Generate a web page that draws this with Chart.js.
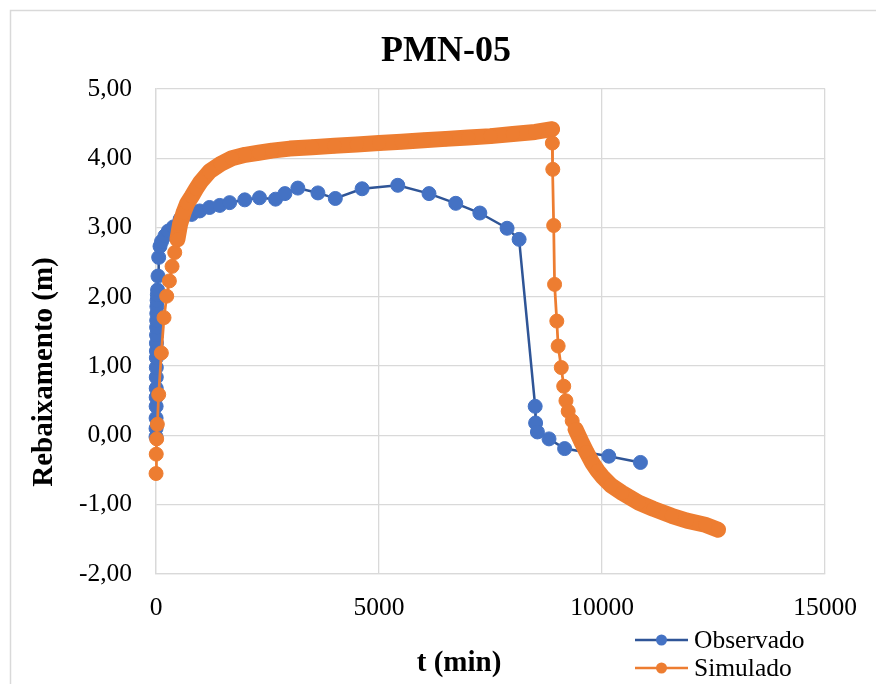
<!DOCTYPE html>
<html>
<head>
<meta charset="utf-8">
<title>PMN-05</title>
<style>
  html, body { margin: 0; padding: 0; background: #fff; }
</style>
</head>
<body>
<canvas id="grafico" width="876" height="684"></canvas>
<script src="https://cdn.jsdelivr.net/npm/chart.js"></script>
<script>
  // Poço PMN-05 - tempo (min) x rebaixamento (m)
  const obsT = [0, 1, 2, 3, 4, 5, 6, 7, 8, 9, 10, 12, 14, 16, 18, 20, 25, 30, 35, 45,
    60, 90, 125, 200, 275, 390, 540, 800, 980, 1200, 1430, 1650, 1990, 2320, 2680, 2890,
    3180, 3630, 4020, 4620, 5420, 6120, 6720, 7260, 7870, 8140, 8500, 8510, 8550, 8810,
    9160, 10150, 10860];
  const obsS = [-0.02, 0.10, 0.25, 0.42, 0.55, 0.68, 0.84, 0.98, 1.12, 1.22, 1.33, 1.45,
    1.56, 1.66, 1.76, 1.86, 1.95, 2.03, 2.10, 2.30, 2.57, 2.73, 2.80, 2.88, 2.95, 3.01,
    3.12, 3.19, 3.24, 3.29, 3.32, 3.36, 3.40, 3.43, 3.41, 3.49, 3.57, 3.50, 3.42, 3.56,
    3.61, 3.49, 3.35, 3.21, 2.99, 2.83, 0.42, 0.18, 0.05, -0.05, -0.19, -0.30, -0.39];

  const simT = [1, 5, 15, 30, 60, 120, 180, 240, 300, 360, 420, 480, 540, 620, 700, 800,
    900, 1000, 1200, 1450, 1700, 2000, 2300, 2600, 3000, 3500, 4000, 4500, 5000, 5500,
    6000, 6500, 7000, 7500, 8000, 8500, 8880, 8885, 8895, 8915, 8935, 8985, 9015, 9085,
    9140, 9190, 9240, 9330, 9405, 9550, 9650, 9775, 9900, 10000, 10200, 10450, 10820,
    11150, 11560, 11900, 12310, 12600];
  const simS = [-0.55, -0.27, -0.05, 0.16, 0.59, 1.19, 1.70, 2.01, 2.23, 2.44, 2.64, 2.83,
    3.05, 3.22, 3.35, 3.45, 3.56, 3.66, 3.81, 3.92, 4.00, 4.05, 4.08, 4.11, 4.14, 4.16,
    4.18, 4.20, 4.22, 4.24, 4.26, 4.28, 4.30, 4.32, 4.35, 4.38, 4.42, 4.22, 3.84, 3.03,
    2.18, 1.65, 1.29, 0.98, 0.71, 0.50, 0.35, 0.21, 0.09, -0.11, -0.24, -0.39, -0.51,
    -0.59, -0.72, -0.83, -0.97, -1.06, -1.16, -1.23, -1.29, -1.36];
  // trechos em que o modelo saiu passo a passo (marcadores encostados)
  const simDense = [[480, 8880], [9405, 12600]];

  const xTicks = [0, 5000, 10000, 15000];
  const yTicks = [-2, -1, 0, 1, 2, 3, 4, 5];

  const fonte = "'Liberation Serif', 'Times New Roman', serif";
  const grade = "#d9d9d9";

  function pontos(t, s) {
    return t.map((v, i) => ({ x: v, y: s[i] }));
  }

  function trechoDenso(i0, i1) {
    return simDense.some(([a, b]) => simT[i0] >= a && simT[i1] <= b);
  }

  // moldura, titulos e legenda (linha + marcador, como no Excel)
  const textos = {
    id: "textos",
    beforeDraw(chart) {
      const c = chart.ctx;
      c.save();
      c.strokeStyle = grade;
      c.lineWidth = 1.5;
      c.strokeRect(10.5, 10.5, 900, 700);
      c.restore();
    },
    afterDraw(chart) {
      const c = chart.ctx;
      c.save();
      c.fillStyle = "#000";
      c.textAlign = "center";
      c.textBaseline = "middle";
      c.font = "bold 36px " + fonte;
      c.fillText("PMN-05", 446, 52);
      c.font = "bold 29px " + fonte;
      c.fillText("t (min)", 459, 664);
      c.save();
      c.translate(45, 372);
      c.rotate(-Math.PI / 2);
      c.fillText("Rebaixamento (m)", 0, 0);
      c.restore();

      const linhas = [640, 668];
      chart.data.datasets.forEach((ds, i) => {
        const y = linhas[i];
        c.strokeStyle = ds.borderColor;
        c.lineWidth = 2.5;
        c.beginPath();
        c.moveTo(635, y);
        c.lineTo(688, y);
        c.stroke();
        c.fillStyle = ds.pointBackgroundColor;
        c.beginPath();
        c.arc(661.5, y, 5.5, 0, Math.PI * 2);
        c.fill();
        c.fillStyle = "#000";
        c.textAlign = "left";
        c.font = "25.5px " + fonte;
        c.fillText(ds.label, 694, y + 1);
      });
      c.restore();
    },
  };

  const ctx = document.getElementById("grafico").getContext("2d");

  new Chart(ctx, {
    type: "scatter",
    data: {
      datasets: [
        {
          label: "Observado",
          data: pontos(obsT, obsS),
          showLine: true,
          borderColor: "#2f5597",
          borderWidth: 2.5,
          pointBackgroundColor: "#4472c4",
          pointBorderColor: "#4472c4",
          pointBorderWidth: 1,
          pointRadius: 7,
          clip: false,
          order: 1,
        },
        {
          label: "Simulado",
          data: pontos(simT, simS),
          showLine: true,
          borderColor: "#ed7d31",
          borderWidth: 2.75,
          borderCapStyle: "round",
          borderJoinStyle: "round",
          pointBackgroundColor: "#ed7d31",
          pointBorderColor: "#ed7d31",
          pointBorderWidth: 1,
          pointRadius: 7,
          clip: false,
          order: 0,
          segment: {
            borderWidth: (s) => (trechoDenso(s.p0DataIndex, s.p1DataIndex) ? 16 : 2.75),
          },
        },
      ],
    },
    options: {
      responsive: false,
      animation: false,
      devicePixelRatio: 1,
      layout: { padding: { top: 89, right: 49, bottom: 0, left: 0 } },
      plugins: {
        legend: { display: false },
        title: { display: false },
        tooltip: { enabled: false },
      },
      scales: {
        x: {
          type: "linear",
          min: xTicks[0],
          max: xTicks[xTicks.length - 1],
          afterBuildTicks: (scale) => { scale.ticks = xTicks.map((v) => ({ value: v })); },
          afterFit: (scale) => { scale.height = 110; },
          grid: { color: grade, lineWidth: 1.3, drawTicks: false },
          border: { color: grade, width: 1.3 },
          ticks: {
            padding: 19,
            color: "#000",
            font: { family: fonte, size: 25.5 },
            callback: (v) => String(v),
          },
        },
        y: {
          type: "linear",
          min: yTicks[0],
          max: yTicks[yTicks.length - 1],
          afterBuildTicks: (scale) => { scale.ticks = yTicks.map((v) => ({ value: v })); },
          afterFit: (scale) => { scale.width = 156; },
          grid: { color: grade, lineWidth: 1.3, drawTicks: false },
          border: { color: grade, width: 1.3 },
          ticks: {
            padding: 24,
            color: "#000",
            font: { family: fonte, size: 25.5 },
            callback: (v) => v.toFixed(2).replace(".", ","),
          },
        },
      },
    },
    plugins: [textos],
  });
</script>
</body>
</html>
